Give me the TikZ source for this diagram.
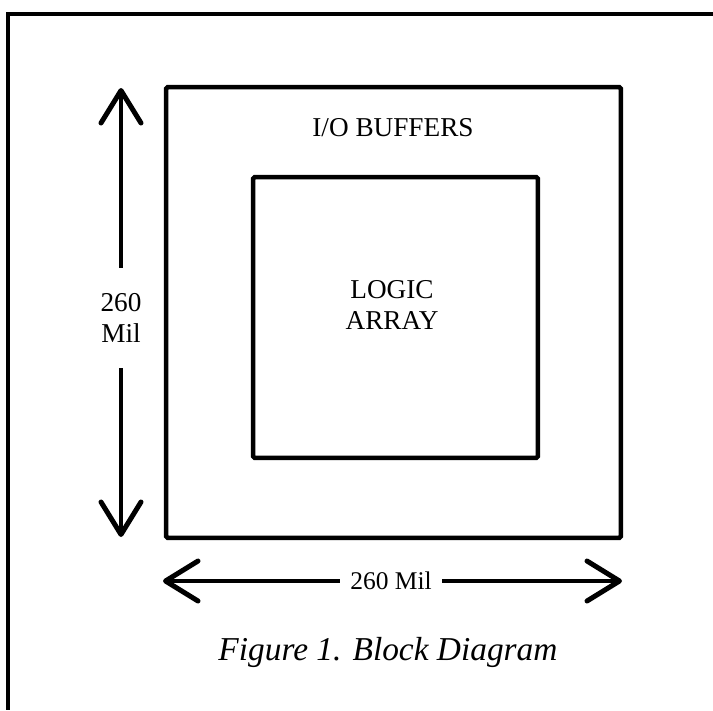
\documentclass[tikz,border=0pt]{standalone}
\usepackage{fontspec}
\setmainfont{Liberation Serif}
\usetikzlibrary{arrows.meta}

\tikzset{
  block/.style={draw=black, line width=0.09cm, rounded corners=1pt},
  half/.style={line width=0.065cm, -{Straight Barb[length=0.65cm,width=0.8cm,line width=0.1cm,round]}},
  lbl/.style={font=\fontsize{15.5}{18}\selectfont, align=center}
}

\begin{document}
\begin{tikzpicture}[x=0.02cm, y=-0.02cm]
\useasboundingbox (0,0) rectangle (713,710);
% frame
\draw[line width=0.07cm] (713,14) -- (8,14) -- (8,710);

\node[block, minimum width=9.1cm, minimum height=9.02cm](buffers) at (393.5,312.5) {};
\node[block, minimum width=5.7cm, minimum height=5.62cm](logic) at (395.5,317.5) {};
\node[lbl](buflabel) at (393,128) {I/O BUFFERS};
\node[lbl, text depth=0pt](logiclabel) at (392,305) {LOGIC\\ARRAY};

% vertical dimension
\coordinate (vtop) at (121,88);
\coordinate (vbot) at (121,537);
\node[lbl, inner ysep=0.5cm, inner xsep=0pt](vlabel) at (121,318) {260\\Mil};
\draw[half] (vlabel.north) -- (vtop);
\draw[half] (vlabel.south) -- (vbot);

% horizontal dimension
\coordinate (hleft) at (163,581);
\coordinate (hright) at (622,581);
\node[lbl, inner xsep=0.2cm, font=\fontsize{14.5}{17}\selectfont](hlabel) at (391,581) {260 Mil};
\draw[half] (hlabel.west) -- (hleft);
\draw[half] (hlabel.east) -- (hright);

\node[font=\fontsize{19}{22}\selectfont\itshape](caption) at (388,652) {Figure 1. Block Diagram};
\end{tikzpicture}
\end{document}
